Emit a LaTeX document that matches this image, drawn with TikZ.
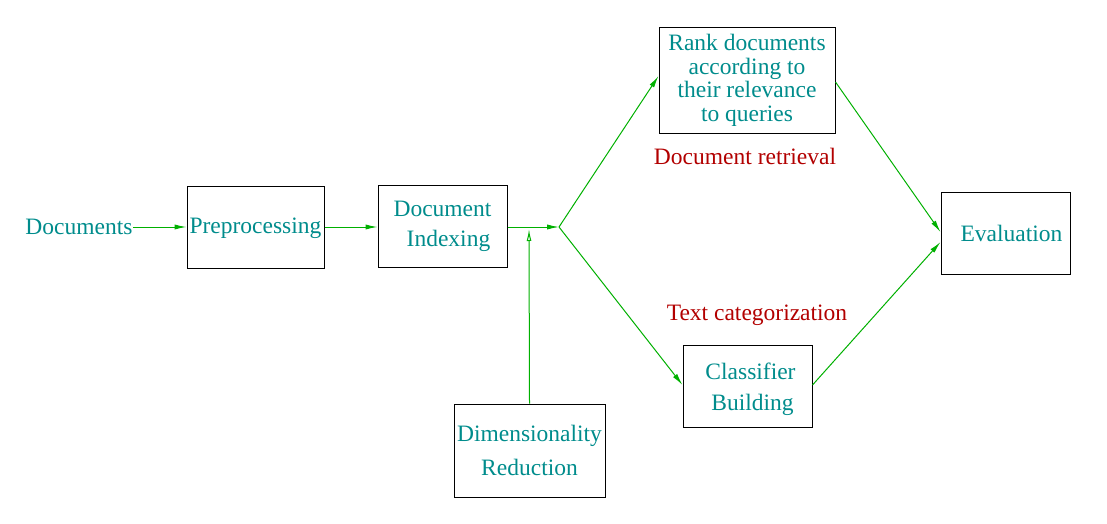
\documentclass[tikz,border=0pt]{standalone}
\usepackage{fontspec}
\setmainfont{Liberation Serif}
\usepackage{xcolor}
\usetikzlibrary{arrows.meta}
\definecolor{tealtxt}{RGB}{0,140,140}
\definecolor{darkred}{RGB}{178,0,0}
\definecolor{flowgreen}{RGB}{0,176,0}
\begin{document}
\begin{tikzpicture}[x=0.5pt,y=-0.5pt,
              every node/.style = {text=tealtxt, align=center, font=\fontsize{11.75}{15}\selectfont},
              box/.style = {draw, line width=0.5pt, inner sep=0pt},
              tag/.style = {text=darkred},
              flow/.style = {draw=flowgreen, line width=0.5pt, -{Latex[length=6pt,width=2.6pt]}}]
  \useasboundingbox (0,0) rectangle (1107,524);
  \node[inner sep=0pt] (docs) at (79,227) {Documents};
  \node[box, minimum width=68.5pt, minimum height=41pt, text height=9.5pt] (prep) at (255.5,227) {Preprocessing};
  \node[box, minimum width=64.5pt, minimum height=41pt] (index) at (442.5,226) {Document\\\hspace*{6pt}Indexing};
  \node[box, minimum width=75.5pt, minimum height=46.5pt, font=\fontsize{11.75}{17}\selectfont] (dimred) at (529.5,450.5) {Dimensionality\\Reduction};
  \node[box, minimum width=88pt, minimum height=52.5pt, font=\fontsize{11.75}{11.8}\selectfont] (rank) at (747,80.5) {Rank documents\\according to\\their relevance\\to queries};
  \node[box, minimum width=64.5pt, minimum height=41pt, font=\fontsize{11.75}{15.5}\selectfont] (classif) at (747.5,386) {\rule{0pt}{12pt}\hspace*{3pt}Classifier\\\hspace*{5pt}Building};
  \node[box, minimum width=64.5pt, minimum height=41pt] (eval) at (1005.5,233) {\hspace*{6pt}Evaluation};
  \node[tag] (retrieval) at (745,156) {Document retrieval};
  \node[tag] (categ) at (757,315) {Text categorization};
  \coordinate (split) at (559,227);
  \coordinate (join) at (529,229);

  \draw[flow] (docs.east) -- (prep.west);
  \draw[flow] (prep.east) -- (index.west |- prep.east);
  \draw[flow] (index.east |- split) -- (split);
  \draw[draw=flowgreen, line width=0.5pt, -{Latex[open,length=6pt,width=2.4pt]}] (dimred.north) -- (join);
  \draw[flow] (split) -- (rank.west |- 0,76);
  \draw[flow] (split) -- (classif.west |- 0,385);
  \draw[flow] (rank.east |- 0,82) -- (eval.west |- 0,232);
  \draw[flow] (classif.east |- 0,385) -- (eval.west |- 0,242);
\end{tikzpicture}
\end{document}
